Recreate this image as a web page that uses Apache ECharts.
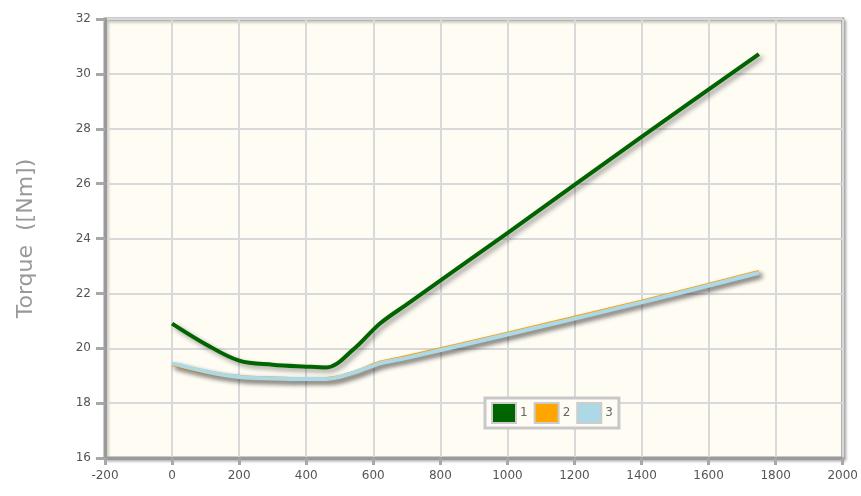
<!DOCTYPE html>
<html>
<head>
<meta charset="utf-8">
<script src="https://cdn.jsdelivr.net/npm/echarts@6/dist/echarts.min.js"></script>
<style>
html,body{margin:0;padding:0;background:#fff;}
#main{width:861px;height:496px;}
</style>
</head>
<body>
<div id="main"></div>
<script>
// rpm values (x) and torque per series
var speeds = [0, 100, 200, 300, 400, 460, 540, 620, 700, 1000, 1400, 1750];
var torque1 = [20.9, 20.15, 19.55, 19.4, 19.33, 19.3, 19.95, 20.9, 21.6, 24.2, 27.7, 30.72];
var torque2 = [19.42, 19.13, 18.95, 18.9, 18.88, 18.88, 19.1, 19.47, 19.68, 20.53, 21.7, 22.78];
var torque3 = [19.45, 19.15, 18.95, 18.9, 18.88, 18.88, 19.1, 19.45, 19.65, 20.5, 21.67, 22.75];
var seriesNames = ['1', '2', '3'];
var seriesColors = ['#006400', '#FFA500', '#ADD8E6'];

function pairs(ys){
    var out = [];
    for (var i = 0; i < speeds.length; i++) out.push([speeds[i], ys[i]]);
    return out;
}

var myChart = echarts.init(document.getElementById('main'));
var lineSeries = [torque1, torque2, torque3].map(function(ys, i){
    return {
        name: seriesNames[i],
        type: 'line',
        smooth: 0.35,
        showSymbol: false,
        symbol: 'none',
        z: 3 + i,
        lineStyle: {
            color: seriesColors[i],
            width: 4,
            shadowColor: 'rgba(0,0,0,0.4)',
            shadowBlur: 5,
            shadowOffsetX: 3,
            shadowOffsetY: 3
        },
        itemStyle: {color: seriesColors[i]},
        data: pairs(ys)
    };
});

var option = {
    animation: false,
    textStyle: {fontFamily: 'DejaVu Sans'},
    grid: {
        left: 105, right: 9, top: 19, bottom: 38,
        show: true,
        backgroundColor: '#fffcf4',
        borderColor: '#9a9a9a',
        borderWidth: 3,
        shadowColor: 'rgba(0,0,0,0.25)',
        shadowBlur: 3,
        shadowOffsetX: 2,
        shadowOffsetY: 2
    },
    legend: {
        data: seriesNames,
        left: 485,
        top: 398,
        orient: 'horizontal',
        padding: [4, 6, 4, 6],
        itemWidth: 24,
        itemHeight: 20,
        itemGap: 6,
        borderColor: '#c8c8c8',
        borderWidth: 3,
        backgroundColor: '#fffcf4',
        icon: 'rect',
        itemStyle: {borderColor: '#cccccc', borderWidth: 2},
        textStyle: {color: '#666', fontSize: 12, padding: [0, 0, 0, -1]}
    },
    xAxis: {
        type: 'value',
        min: -200, max: 2000, interval: 200,
        axisLine: {show: true, onZero: false, lineStyle: {color: '#9a9a9a', width: 3}},
        axisTick: {show: true, length: 7, lineStyle: {color: '#a8a8a8', width: 3}},
        axisLabel: {color: '#555', fontSize: 12, margin: 12, formatter: function(v){ return String(v); }},
        splitLine: {show: true, lineStyle: {color: '#d9d9d9', width: 2}}
    },
    yAxis: {
        type: 'value',
        min: 16, max: 32, interval: 2,
        name: 'Torque  ([Nm])',
        nameLocation: 'middle',
        nameGap: 68,
        nameTextStyle: {color: '#999', fontSize: 22},
        axisLine: {show: true, onZero: false, lineStyle: {color: '#9a9a9a', width: 3}},
        axisTick: {show: true, length: 9, lineStyle: {color: '#a8a8a8', width: 3}},
        axisLabel: {color: '#555', fontSize: 12, margin: 14},
        splitLine: {show: true, lineStyle: {color: '#d9d9d9', width: 2}}
    },
    series: lineSeries
};
myChart.setOption(option);
</script>
</body>
</html>
